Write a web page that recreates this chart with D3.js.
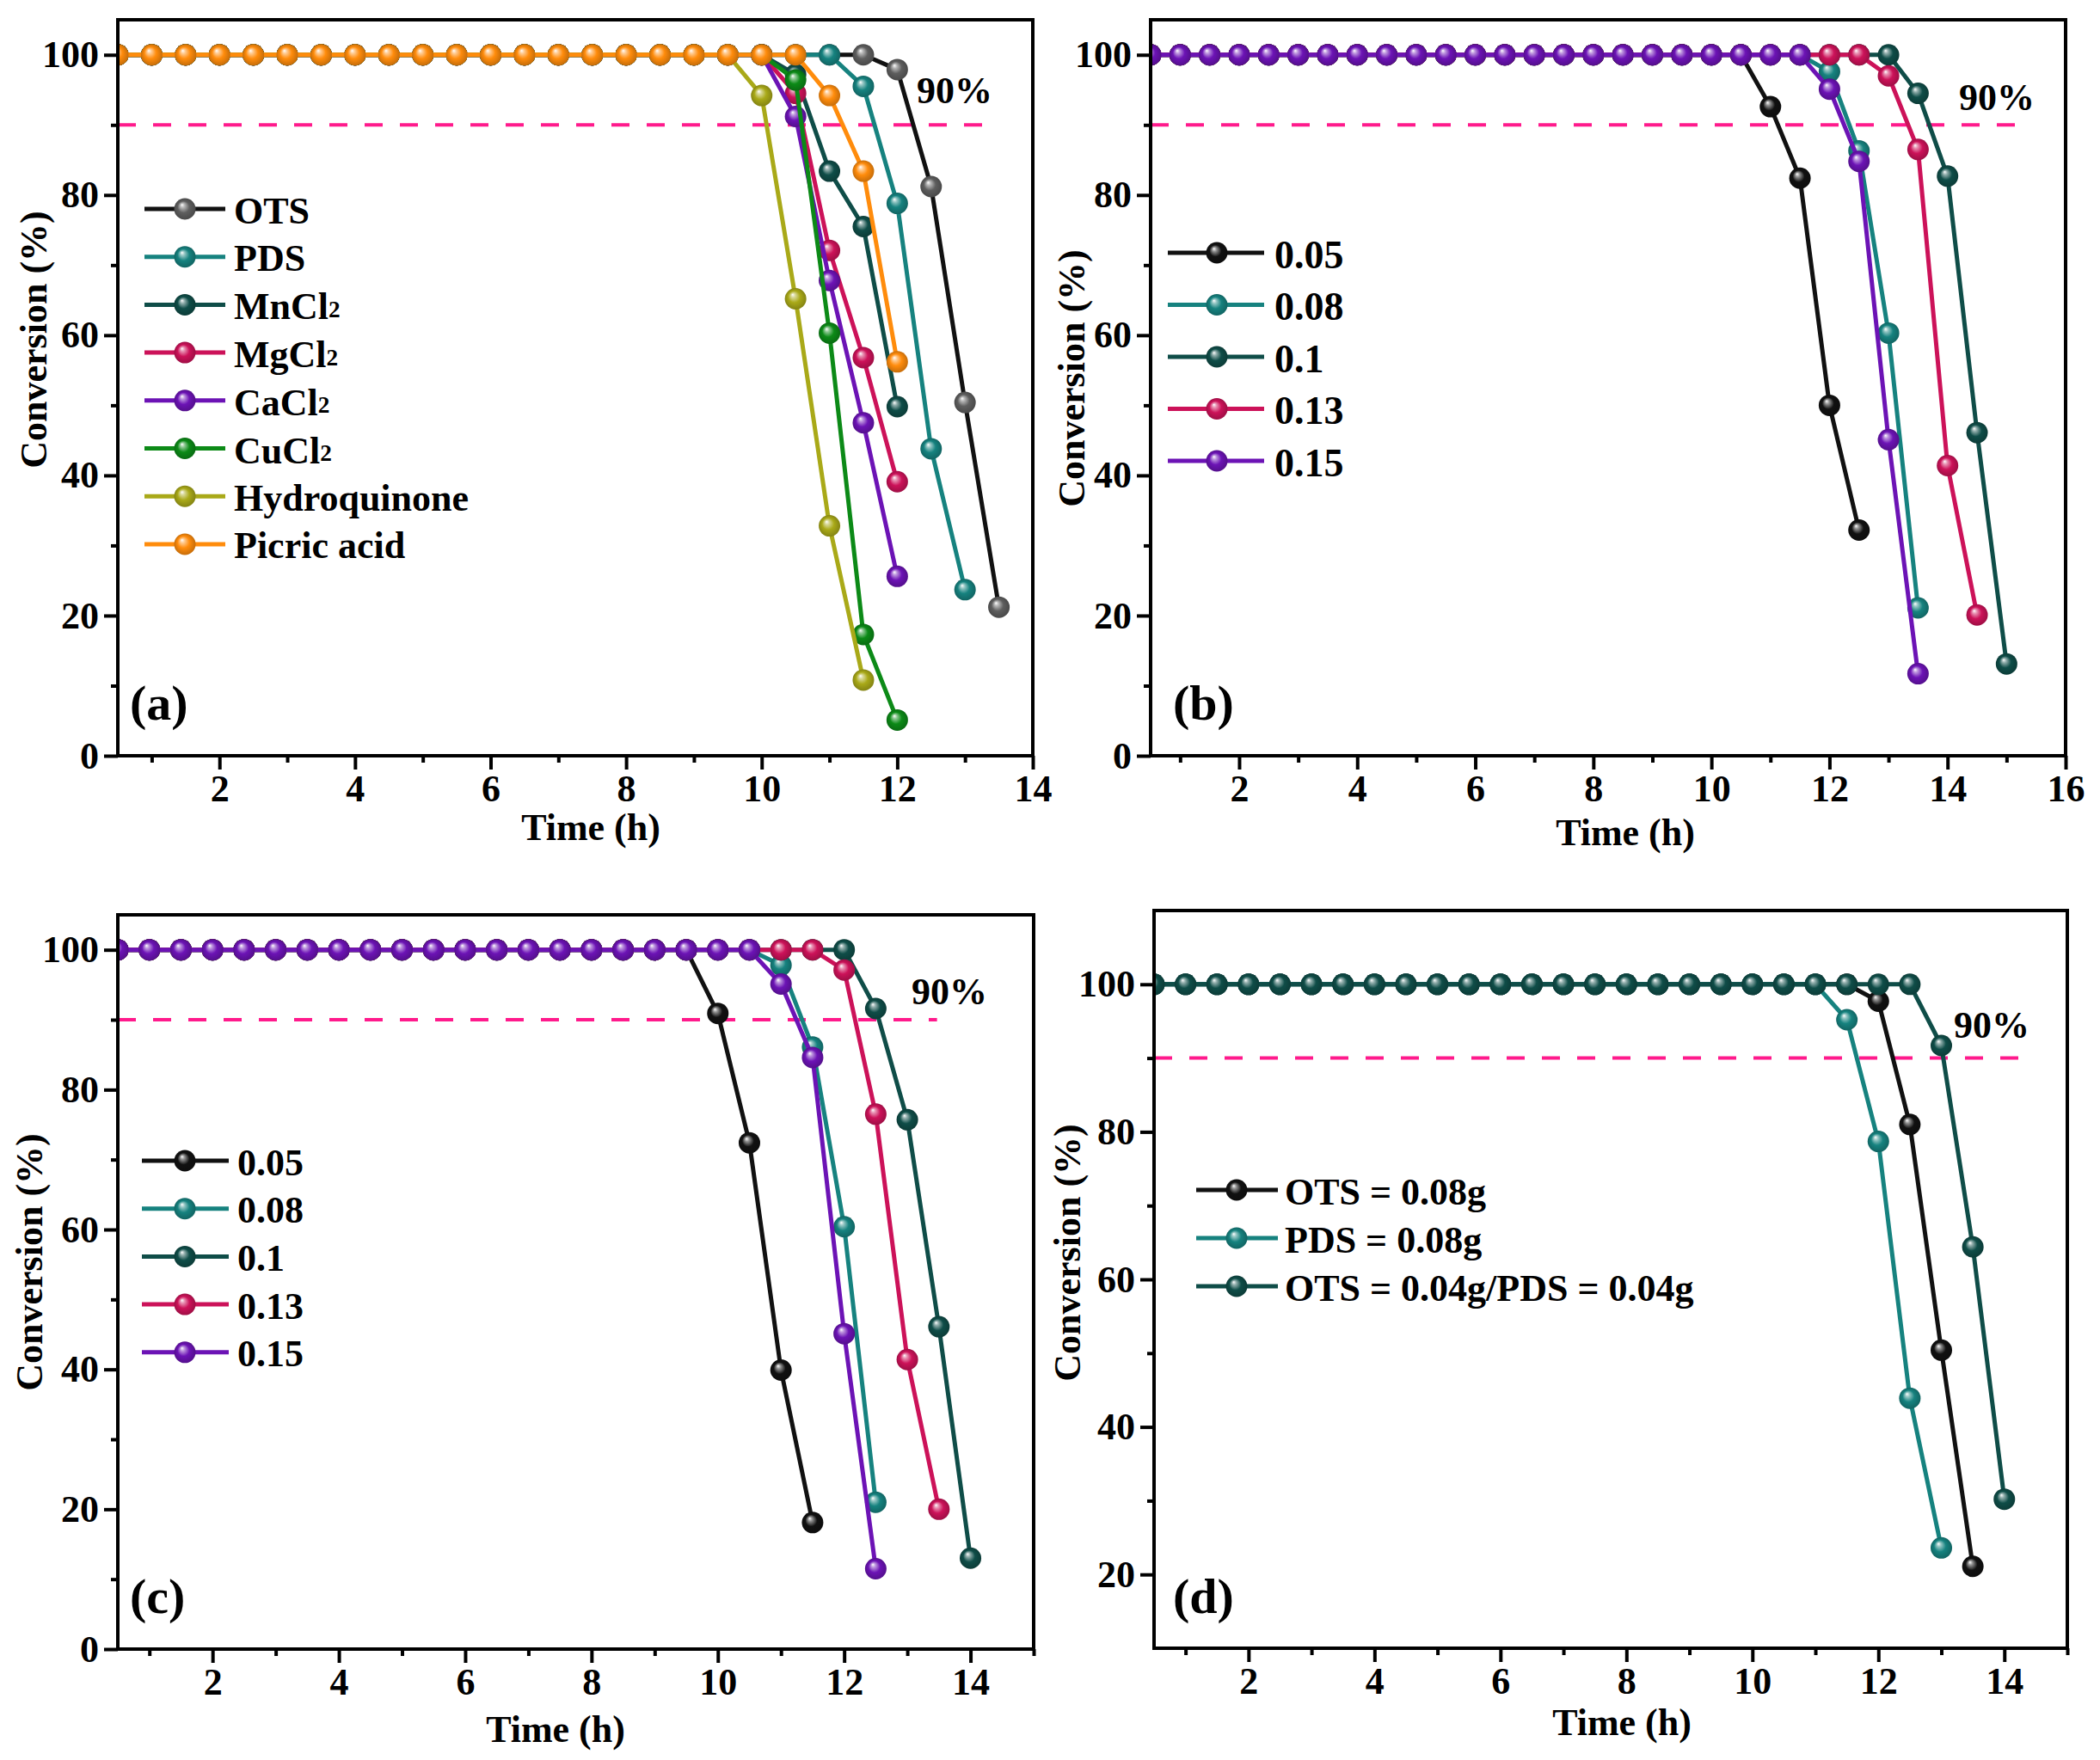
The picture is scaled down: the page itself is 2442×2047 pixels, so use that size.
<!DOCTYPE html>
<html><head><meta charset="utf-8">
<script src="https://cdn.jsdelivr.net/npm/d3@7"></script>
<style>
body{margin:0;background:#fff}
svg{display:block}
text{font-family:"Liberation Serif","Times New Roman",serif;font-weight:bold;fill:#000}
</style>
</head><body>
<svg id="chart" width="2442" height="2047"></svg>
<script>
// ---------------- DATA ----------------
const timesA = [0.5,1,1.5,2,2.5,3,3.5,4,4.5,5,5.5,6,6.5,7,7.5,8,8.5,9,9.5,10,10.5,11,11.5,12,12.5,13,13.5];
const timesB = [0.5,1,1.5,2,2.5,3,3.5,4,4.5,5,5.5,6,6.5,7,7.5,8,8.5,9,9.5,10,10.5,11,11.5,12,12.5,13,13.5,14,14.5,15];
const timesC = [0.5,1,1.5,2,2.5,3,3.5,4,4.5,5,5.5,6,6.5,7,7.5,8,8.5,9,9.5,10,10.5,11,11.5,12,12.5,13,13.5,14];
const timesD = [0.5,1,1.5,2,2.5,3,3.5,4,4.5,5,5.5,6,6.5,7,7.5,8,8.5,9,9.5,10,10.5,11,11.5,12,12.5,13,13.5,14];

// Panel (a)
const namesA = ["OTS","PDS","MnCl2","MgCl2","CaCl2","CuCl2","Hydroquinone","Picric acid"];
const aOTS = [100,100,100,100,100,100,100,100,100,100, 100,100,100,100,100,100,100,100,100,100, 100,100,100, 97.9,81.2,50.4,21.2];
const aPDS = [100,100,100,100,100,100,100,100,100,100, 100,100,100,100,100,100,100,100,100,100, 100,100, 95.5,78.8,43.8,23.7];
const aMnCl2 = [100,100,100,100,100,100,100,100,100,100, 100,100,100,100,100,100,100,100,100,100, 97.2,83.4,75.5,49.8];
const aMgCl2 = [100,100,100,100,100,100,100,100,100,100, 100,100,100,100,100,100,100,100,100,100, 94.5,72.1,56.8,39.1];
const aCaCl2 = [100,100,100,100,100,100,100,100,100,100, 100,100,100,100,100,100,100,100,100,100, 91.2,67.8,47.5,25.6];
const aCuCl2 = [100,100,100,100,100,100,100,100,100,100, 100,100,100,100,100,100,100,100,100,100, 96.4,60.3,17.3,5.1];
const aHydro = [100,100,100,100,100,100,100,100,100,100, 100,100,100,100,100,100,100,100,100, 94.2,65.2,32.8,10.8];
const aPicric = [100,100,100,100,100,100,100,100,100,100, 100,100,100,100,100,100,100,100,100,100, 100, 94.2,83.4,56.2];

// Panel (b)
const namesB = ["0.05","0.08","0.1","0.13","0.15"];
const b005 = [100,100,100,100,100,100,100,100,100,100, 100,100,100,100,100,100,100,100,100,100, 100, 92.6,82.4,50.0,32.2];
const b008 = [100,100,100,100,100,100,100,100,100,100, 100,100,100,100,100,100,100,100,100,100, 100,100,100, 97.6,86.3,60.3,21.1];
const b010 = [100,100,100,100,100,100,100,100,100,100, 100,100,100,100,100,100,100,100,100,100, 100,100,100,100,100,100, 94.5,82.7,46.1,13.1];
const b013 = [100,100,100,100,100,100,100,100,100,100, 100,100,100,100,100,100,100,100,100,100, 100,100,100,100,100, 97.0,86.5,41.4,20.1];
const b015 = [100,100,100,100,100,100,100,100,100,100, 100,100,100,100,100,100,100,100,100,100, 100,100,100, 95.1,84.8,45.1,11.7];

// Panel (c)
const namesC = ["0.05","0.08","0.1","0.13","0.15"];
const c005 = [100,100,100,100,100,100,100,100,100,100, 100,100,100,100,100,100,100,100,100, 90.9,72.4,39.9,18.1];
const c008 = [100,100,100,100,100,100,100,100,100,100, 100,100,100,100,100,100,100,100,100,100, 100, 97.8,86.1,60.4,21.0];
const c010 = [100,100,100,100,100,100,100,100,100,100, 100,100,100,100,100,100,100,100,100,100, 100,100,100,100, 91.6,75.7,46.1,13.0];
const c013 = [100,100,100,100,100,100,100,100,100,100, 100,100,100,100,100,100,100,100,100,100, 100,100,100, 97.1,76.5,41.4,20.0];
const c015 = [100,100,100,100,100,100,100,100,100,100, 100,100,100,100,100,100,100,100,100,100, 100, 95.1,84.6,45.1,11.5];

// Panel (d)
const namesD = ["OTS = 0.08g","PDS = 0.08g","OTS = 0.04g/PDS = 0.04g"];
const dOTS = [100,100,100,100,100,100,100,100,100,100, 100,100,100,100,100,100,100,100,100,100, 100,100,100, 97.7,81.0,50.4,21.1];
const dPDS = [100,100,100,100,100,100,100,100,100,100, 100,100,100,100,100,100,100,100,100,100, 100,100, 95.2,78.7,43.9,23.6];
const dMix = [100,100,100,100,100,100,100,100,100,100, 100,100,100,100,100,100,100,100,100,100, 100,100,100,100,100, 91.7,64.4,30.2];

// Axis ticks
const xMajorA = [2,4,6,8,10,12,14];
const xMajorB = [2,4,6,8,10,12,14,16];
const xMinorA = [1,3,5,7,9,11,13];
const xMinorB = [1,3,5,7,9,11,13,15];
const yMajor = [0,20,40,60,80,100];
const yMinor = [10,30,50,70,90];
const yMajorD = [20,40,60,80,100];
const yMinorD = [30,50,70,90];
const threshold = 90;

// ---------------- STYLES ----------------
const C = {
  black:"#111111", gray:"#5e5e5e", teal:"#16827f", dteal:"#0f4d48",
  crimson:"#cc1259", purple:"#6c13b5", green:"#0c8a17", olive:"#a9a918", orange:"#ff8c0c"
};

const svg = d3.select("#chart");
svg.append("rect").attr("width",2442).attr("height",2047).attr("fill","#fff");
const defs = svg.append("defs");
const gradMade = {};
function grad(c){
  const id = "g" + c.replace("#","");
  if(!gradMade[id]){
    gradMade[id] = true;
    const rg = defs.append("radialGradient").attr("id",id)
      .attr("cx","50%").attr("cy","50%").attr("r","50%").attr("fx","36%").attr("fy","30%");
    rg.append("stop").attr("offset","0%").attr("stop-color","#ffffff");
    rg.append("stop").attr("offset","20%").attr("stop-color",d3.interpolateRgb(c,"#ffffff")(0.55));
    rg.append("stop").attr("offset","55%").attr("stop-color",c);
    rg.append("stop").attr("offset","100%").attr("stop-color",d3.color(c).darker(0.7).formatHex());
  }
  return "url(#"+id+")";
}

function drawLabel(sel, label, x, y, fs){
  const t = sel.append("text").attr("x",x).attr("y",y).attr("font-size",fs).attr("dominant-baseline","central");
  const m = label.match(/^(.*Cl)2$/);
  if(m){
    t.append("tspan").text(m[1]);
    t.append("tspan").attr("font-size",fs*0.62).attr("dy",fs*0.08).text("2");
  } else t.text(label);
}

function panel(cfg){
  const g = svg.append("g");
  const x = d3.scaleLinear().domain(cfg.xDom).range([cfg.L, cfg.R]);
  const y = d3.scaleLinear().domain(cfg.yDom).range([cfg.B, cfg.T]);
  const cid = "clip"+cfg.id;
  defs.append("clipPath").attr("id",cid).append("rect")
    .attr("x",cfg.L).attr("y",cfg.T).attr("width",cfg.R-cfg.L).attr("height",cfg.B-cfg.T);

  // dashed threshold line
  g.append("line").attr("x1",x(cfg.xDom[0])).attr("x2",x(cfg.dashEnd))
    .attr("y1",y(threshold)).attr("y2",y(threshold))
    .attr("stroke","#ff1a8c").attr("stroke-width",4).attr("stroke-dasharray","21,20");

  // series
  const dg = g.append("g").attr("clip-path","url(#"+cid+")");
  const line = d3.line().x(d=>x(d.t)).y(d=>y(d.v));
  cfg.series.forEach(s=>{
    const pts = s.vals.map((v,i)=>({t:cfg.times[i], v:v}));
    dg.append("path").datum(pts).attr("d",line).attr("fill","none")
      .attr("stroke",s.line).attr("stroke-width",5).attr("stroke-linejoin","round");
    dg.selectAll(null).data(pts).enter().append("circle")
      .attr("cx",d=>x(d.t)).attr("cy",d=>y(d.v)).attr("r",12.5)
      .attr("fill",grad(s.marker));
  });

  // axes
  const ax = g.append("g").attr("transform","translate(0,"+cfg.B+")");
  ax.call(d3.axisBottom(x).tickValues(cfg.xMajor).tickFormat(d3.format("d")).tickSize(16).tickPadding(6).tickSizeOuter(0));
  const axm = g.append("g").attr("transform","translate(0,"+cfg.B+")");
  axm.call(d3.axisBottom(x).tickValues(cfg.xMinor).tickFormat("").tickSize(8).tickSizeOuter(0));
  const ay = g.append("g").attr("transform","translate("+cfg.L+",0)");
  ay.call(d3.axisLeft(y).tickValues(cfg.yMajor).tickFormat(d3.format("d")).tickSize(16).tickPadding(6).tickSizeOuter(0));
  const aym = g.append("g").attr("transform","translate("+cfg.L+",0)");
  aym.call(d3.axisLeft(y).tickValues(cfg.yMinor).tickFormat("").tickSize(8).tickSizeOuter(0));
  [ax,axm,ay,aym].forEach(a=>{
    a.select(".domain").remove();
    a.selectAll(".tick line").attr("stroke","#000").attr("stroke-width",4);
    a.selectAll("text").attr("font-size",44).attr("font-family",'"Liberation Serif",serif').attr("font-weight","bold").attr("fill","#000");
  });
  // frame
  g.append("rect").attr("x",cfg.L).attr("y",cfg.T).attr("width",cfg.R-cfg.L).attr("height",cfg.B-cfg.T)
    .attr("fill","none").attr("stroke","#000").attr("stroke-width",4);

  // titles
  g.append("text").attr("transform","translate("+cfg.yt[0]+","+cfg.yt[1]+") rotate(-90)")
    .attr("text-anchor","middle").attr("dominant-baseline","central").attr("font-size",44).text("Conversion (%)");
  g.append("text").attr("x",cfg.xt[0]).attr("y",cfg.xt[1])
    .attr("text-anchor","middle").attr("dominant-baseline","central").attr("font-size",44).text("Time (h)");

  // 90% label
  g.append("text").attr("x",cfg.p90[0]).attr("y",cfg.p90[1]).attr("font-size",44).text("90%");
  // panel letter
  g.append("text").attr("x",cfg.letterPos[0]).attr("y",cfg.letterPos[1]).attr("font-size",58)
    .attr("font-weight","normal").text(cfg.letter);

  // legend
  const lg = cfg.legend;
  cfg.series.forEach((s,i)=>{
    const yy = lg.y0 + i*lg.dy;
    g.append("line").attr("x1",lg.x1).attr("x2",lg.x2).attr("y1",yy).attr("y2",yy)
      .attr("stroke",s.line).attr("stroke-width",5);
    g.append("circle").attr("cx",lg.xm).attr("cy",yy).attr("r",12.5).attr("fill",grad(s.marker));
    drawLabel(g, s.name, lg.xt, yy+2, lg.fs);
  });
}

panel({
  id:"a", letter:"(a)", xDom:[0.5,14], yDom:[0,105], L:137, R:1201, T:23, B:879,
  times:timesA, xMajor:xMajorA, xMinor:xMinorA, yMajor:yMajor, yMinor:yMinor,
  dashEnd:13.33, p90:[1066,120], letterPos:[151,837], yt:[39,395], xt:[687,962],
  legend:{y0:243, dy:55.7, x1:168, x2:262, xm:215, xt:272, fs:44},
  series:[
    {name:namesA[0], vals:aOTS, line:C.black, marker:C.gray},
    {name:namesA[1], vals:aPDS, line:C.teal, marker:C.teal},
    {name:namesA[2], vals:aMnCl2, line:C.dteal, marker:C.dteal},
    {name:namesA[3], vals:aMgCl2, line:C.crimson, marker:C.crimson},
    {name:namesA[4], vals:aCaCl2, line:C.purple, marker:C.purple},
    {name:namesA[5], vals:aCuCl2, line:C.green, marker:C.green},
    {name:namesA[6], vals:aHydro, line:C.olive, marker:C.olive},
    {name:namesA[7], vals:aPicric, line:C.orange, marker:C.orange}
  ]
});
panel({
  id:"b", letter:"(b)", xDom:[0.5,16], yDom:[0,105], L:1338, R:2402, T:23, B:879,
  times:timesB, xMajor:xMajorB, xMinor:xMinorB, yMajor:yMajor, yMinor:yMinor,
  dashEnd:15.25, p90:[2278,128], letterPos:[1364,837], yt:[1246,440], xt:[1890,968],
  legend:{y0:294, dy:60.5, x1:1358, x2:1470, xm:1415, xt:1482, fs:46},
  series:[
    {name:namesB[0], vals:b005, line:C.black, marker:C.black},
    {name:namesB[1], vals:b008, line:C.teal, marker:C.teal},
    {name:namesB[2], vals:b010, line:C.dteal, marker:C.dteal},
    {name:namesB[3], vals:b013, line:C.crimson, marker:C.crimson},
    {name:namesB[4], vals:b015, line:C.purple, marker:C.purple}
  ]
});
panel({
  id:"c", letter:"(c)", xDom:[0.5,15], yDom:[0,105], L:137, R:1202, T:1064, B:1918,
  times:timesC, xMajor:xMajorA, xMinor:xMinorB, yMajor:yMajor, yMinor:yMinor,
  dashEnd:13.47, p90:[1060,1168], letterPos:[151,1876], yt:[34,1468], xt:[646,2011],
  legend:{y0:1350, dy:55.7, x1:165, x2:266, xm:215, xt:276, fs:44},
  series:[
    {name:namesC[0], vals:c005, line:C.black, marker:C.black},
    {name:namesC[1], vals:c008, line:C.teal, marker:C.teal},
    {name:namesC[2], vals:c010, line:C.dteal, marker:C.dteal},
    {name:namesC[3], vals:c013, line:C.crimson, marker:C.crimson},
    {name:namesC[4], vals:c015, line:C.purple, marker:C.purple}
  ]
});
panel({
  id:"d", letter:"(d)", xDom:[0.5,15], yDom:[10,110], L:1342, R:2404, T:1059, B:1917,
  times:timesD, xMajor:xMajorA, xMinor:xMinorB, yMajor:yMajorD, yMinor:yMinorD,
  dashEnd:14.28, p90:[2272,1207], letterPos:[1364,1876], yt:[1241,1457], xt:[1886,2003],
  legend:{y0:1384, dy:56, x1:1391, x2:1486, xm:1438, xt:1494, fs:44},
  series:[
    {name:namesD[0], vals:dOTS, line:C.black, marker:C.black},
    {name:namesD[1], vals:dPDS, line:C.teal, marker:C.teal},
    {name:namesD[2], vals:dMix, line:C.dteal, marker:C.dteal}
  ]
});
</script>
</body></html>
